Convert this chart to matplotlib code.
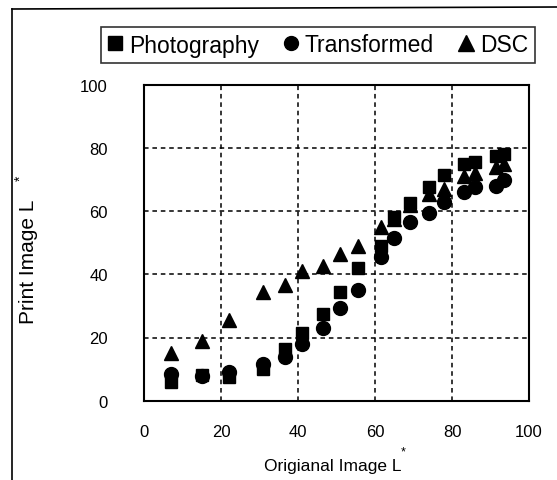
import matplotlib
matplotlib.use("Agg")
import matplotlib.pyplot as plt
from matplotlib.lines import Line2D

plt.rcParams['font.family'] = ['Liberation Sans', 'DejaVu Sans']

# data
orig_L = [7, 15, 22, 31, 36.5, 41, 46.5, 51, 55.5, 61.5, 65, 69, 74, 78, 83, 86, 91.5, 93.5]
photography = [6, 8, 7.5, 10, 16.5, 21.5, 27.5, 34.5, 42, 49, 58, 62.5, 67.5, 71.5, 75, 75.5, 77.5, 78]
transformed = [8.5, 7.8, 9, 11.5, 13.7, 18, 23, 29.3, 35, 45.5, 51.5, 56.5, 59.5, 63, 66, 67.5, 68, 70]
dsc = [15, 19, 25.5, 34.5, 36.5, 41, 42.5, 46.5, 49, 55, 57.5, 62, 65.5, 67, 71, 72, 74, 75]
ticks = [0, 20, 40, 60, 80, 100]

W, H = 557, 481
fig = plt.figure(figsize=(W / 100, H / 100), dpi=100)
ax = fig.add_axes([144 / W, 1 - 401.7 / H, (529 - 144) / W, (401.7 - 85.7) / H])

ax.plot(orig_L, dsc, '^', color='black', markersize=10.5, zorder=3)
ax.plot(orig_L, transformed, 'o', color='black', markersize=10, zorder=4)
ax.plot(orig_L, photography, 's', color='black', markersize=9, zorder=5)

ax.set_xlim(0, 100)
ax.set_ylim(0, 100)
ax.set_xticks(ticks)
ax.set_yticks(ticks)
ax.tick_params(length=0, labelsize=12)
ax.tick_params(axis='y', pad=26)
ax.tick_params(axis='x', pad=17)
for g in [20, 40, 60, 80]:
    ax.axvline(g, color='black', lw=1.1, ls=(0, (3, 2.5)), zorder=1)
    ax.axhline(g, color='black', lw=1.1, ls=(0, (3, 2.5)), zorder=1)
for s in ax.spines.values():
    s.set_linewidth(1.5)

# axis labels
fig.text(333 / W, 1 - 466 / H, 'Origianal Image L', ha='center', va='center', fontsize=12.5)
fig.text(403 / W, 1 - 452 / H, '*', ha='center', va='center', fontsize=9)
fig.text(29 / W, 1 - 262 / H, 'Print Image L', ha='center', va='center', fontsize=15, rotation=90)
fig.text(21 / W, 1 - 178 / H, '*', ha='center', va='center', fontsize=10, rotation=90)

# legend
handles = [Line2D([], [], ls='', marker='s', color='black', markersize=10),
           Line2D([], [], ls='', marker='o', color='black', markersize=10),
           Line2D([], [], ls='', marker='^', color='black', markersize=11)]
leg = fig.legend(handles, ['Photography', 'Transformed', 'DSC'], ncol=3,
                 loc='center', bbox_to_anchor=(318 / W, 1 - 46 / H),
                 fontsize=16.5, frameon=True, fancybox=False, edgecolor='black',
                 handlelength=0.6, handletextpad=0.3, columnspacing=1.1,
                 borderpad=0.3, borderaxespad=0)
leg.get_frame().set_linewidth(1.2)

# outer frame of the scan (left and top only)
fig.add_artist(Line2D([12 / W, 12 / W], [0, 1 - 10 / H], color='black', lw=1.2))
fig.add_artist(Line2D([12 / W, 1], [1 - 10 / H, 1 - 8 / H], color='black', lw=1.2))

fig.savefig('out.png', dpi=100)
